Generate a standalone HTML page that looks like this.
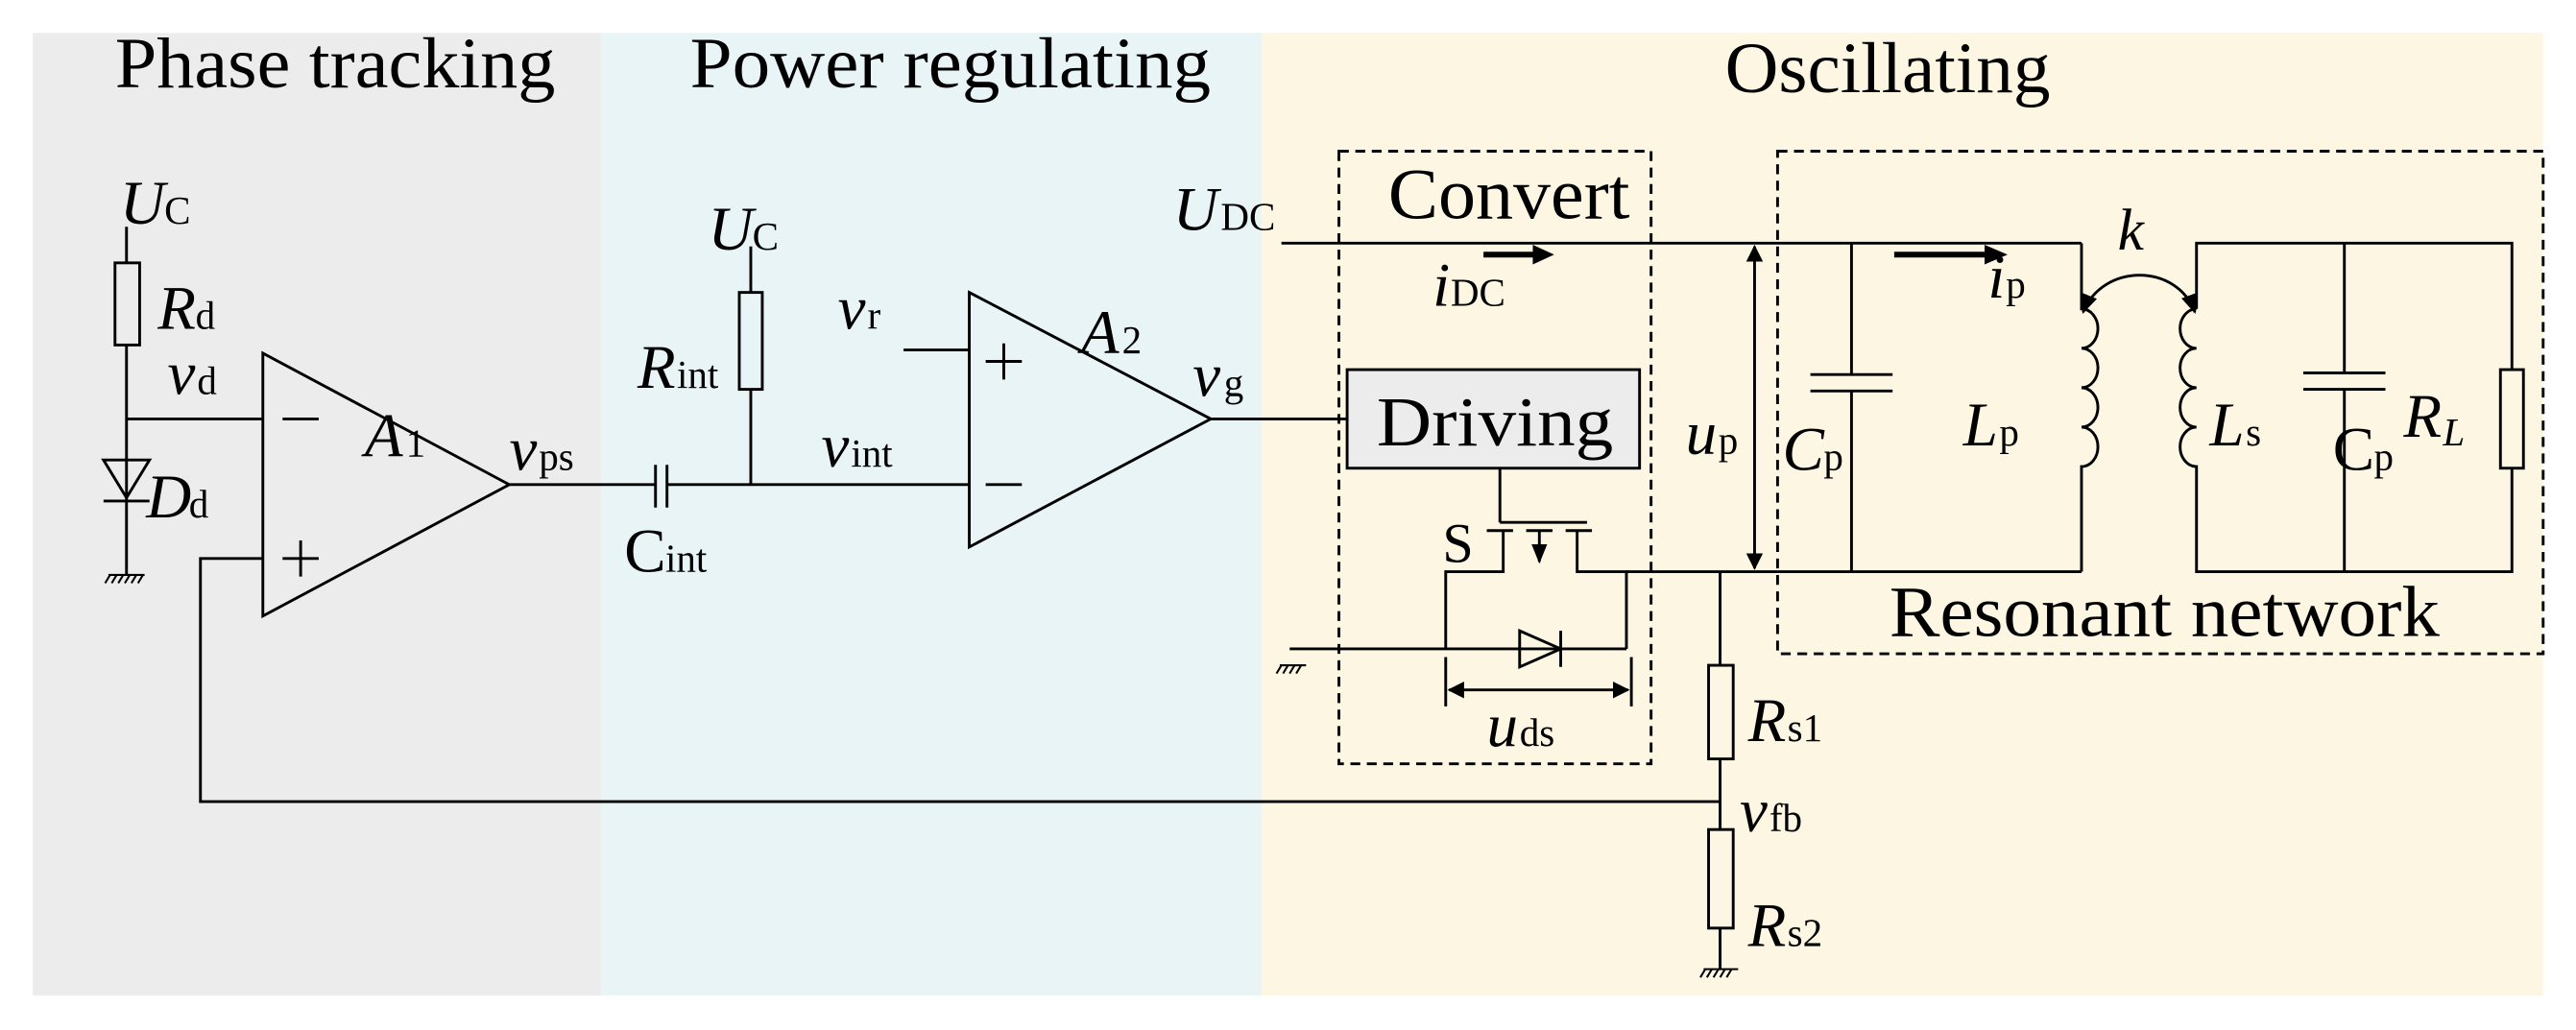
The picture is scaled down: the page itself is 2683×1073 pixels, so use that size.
<!DOCTYPE html>
<html><head><meta charset="utf-8"><style>
html,body{margin:0;padding:0;background:#fff;}
svg{display:block;}
text{font-family:"Liberation Serif",serif;fill:#000;}
.i{font-style:italic;}
</style></head><body>
<svg width="2683" height="1073" viewBox="0 0 1568 627" xmlns="http://www.w3.org/2000/svg">
<defs>
<marker id="ah" viewBox="0 0 10 10" refX="9" refY="5" markerWidth="6" markerHeight="6" orient="auto-start-reverse"><path d="M0,0 L10,5 L0,10 z" fill="#000"/></marker>
<marker id="bh" viewBox="0 0 10 10" refX="9" refY="5" markerWidth="7" markerHeight="7" orient="auto-start-reverse"><path d="M0,1 L10,5 L0,9 z" fill="#000"/></marker>
</defs>
<rect x="20" y="20" width="346" height="586" fill="#ececec"/>
<rect x="366" y="20" width="402" height="586" fill="#e8f4f6"/>
<rect x="768" y="20" width="780" height="586" fill="#fdf6e3"/>
<text x="70" y="53" font-size="44" textLength="268" lengthAdjust="spacingAndGlyphs">Phase tracking</text>
<text x="420" y="53" font-size="44" textLength="317" lengthAdjust="spacingAndGlyphs">Power regulating</text>
<text x="1050" y="56" font-size="44" textLength="198" lengthAdjust="spacingAndGlyphs">Oscillating</text>
<g stroke="#000" stroke-width="1.7" fill="none">
<path d="M77,138 V160 M77,210 V305 M77,350 V305"/>
<rect x="70" y="160" width="15" height="50"/>
<path d="M63,280 H91 L77,303 Z M63,305 H91"/>
<path d="M77,255 H160"/>
<path d="M66,350 H88 M67,350 l-3,5 M71,350 l-3,5 M75,350 l-3,5 M79,350 l-3,5 M83,350 l-3,5 M87,350 l-3,5" stroke-width="1.2"/>
<path d="M160,215 V375 L310,295 Z"/>
<path d="M172,255 H194 M172,340 H194 M183,329 V351"/>
<path d="M160,340 H122 V488 H1047"/>
<path d="M310,295 H399 M399,283 V309 M406,283 V309 M406,295 H590"/>
<path d="M457,150 V178 M457,237 V295"/>
<rect x="450" y="178" width="14" height="59"/>
<path d="M590,178 V333 L737,255 Z"/>
<path d="M600,220 H622 M611,209 V231 M600,295 H622"/>
<path d="M550,213 H590"/>
<path d="M737,255 H820"/>
</g>
<rect x="820" y="225" width="178" height="60" fill="#ececec" stroke="#000" stroke-width="1.7"/>
<text x="838" y="271" font-size="43" textLength="144" lengthAdjust="spacingAndGlyphs">Driving</text>
<g stroke="#000" stroke-width="1.7" fill="none">
<rect x="815" y="92" width="190" height="373" stroke-dasharray="6,4"/>
<rect x="1082" y="92" width="466" height="306" stroke-dasharray="6,4"/>
<path d="M780,148 H1267"/>
<path d="M990,348 H1267"/>
<path d="M913,285 V318 M913,318 H966 M905,323 H921 M929,323 H945 M953,323 H969 M915,323 V348 H880 V395 M960,323 V348 H990 V395 M880,395 H990 M785,395 H880"/>
<path d="M937,323 V342" marker-end="url(#bh)"/>
<path d="M925,384 V406 L950,395 Z M950,384 V406"/>
<path d="M779,405 H795 M780,405 l-3,5 M784,405 l-3,5 M788,405 l-3,5 M792,405 l-3,5" stroke-width="1.2"/>
<path d="M880,400 V430 M993,400 V430"/>
<path d="M882,420 H991" marker-start="url(#ah)" marker-end="url(#ah)"/>
<path d="M1068,150 V346" marker-start="url(#ah)" marker-end="url(#ah)"/>
<path d="M1127,148 V228 M1127,238 V348 M1102,228 H1152 M1102,238 H1152"/>
<path d="M1267,148 V188 a10,12 0 0 1 0,24 a10,12 0 0 1 0,24 a10,12 0 0 1 0,24 a10,12 0 0 1 0,24 V348"/>
<path d="M1337,188 a10,12 0 0 0 0,24 a10,12 0 0 0 0,24 a10,12 0 0 0 0,24 a10,12 0 0 0 0,24 V348 H1529 V285 M1529,225 V148 H1337 V188"/>
<rect x="1522" y="225" width="14" height="60"/>
<path d="M1427,148 V227 M1427,237 V348 M1402,227 H1452 M1402,237 H1452"/>
<path d="M1268,190 C1280,160 1325,160 1336,190" marker-start="url(#bh)" marker-end="url(#bh)"/>
<path d="M1047,348 V405 M1047,462 V505 M1047,565 V590"/>
<rect x="1040" y="405" width="15" height="57"/>
<rect x="1040" y="505" width="15" height="60"/>
<path d="M1037,590 H1058 M1038,590 l-3,5 M1042,590 l-3,5 M1046,590 l-3,5 M1050,590 l-3,5 M1054,590 l-3,5" stroke-width="1.2"/>
</g>
<path d="M903,155 H935" stroke="#000" stroke-width="3.5"/><path d="M933,149 L946,155 L933,161 Z"/>
<path d="M1153,155 H1210" stroke="#000" stroke-width="3.5"/><path d="M1208,149 L1222,155 L1208,161 Z"/>
<text x="73" y="136" font-size="38" class="i">U</text><text x="100" y="136" font-size="24">C</text>
<text x="96" y="200" font-size="38" class="i">R</text><text x="119" y="200" font-size="24">d</text>
<text x="102" y="240" font-size="38" class="i">v</text><text x="120" y="240" font-size="24">d</text>
<text x="89" y="315" font-size="38" class="i">D</text><text x="115" y="315" font-size="24">d</text>
<text x="222" y="278" font-size="38" class="i">A</text><text x="247" y="278" font-size="24">1</text>
<text x="310" y="286" font-size="38" class="i">v</text><text x="328" y="286" font-size="24">ps</text>
<text x="380" y="348" font-size="38">C</text><text x="405" y="348" font-size="24">int</text>
<text x="431" y="152" font-size="38" class="i">U</text><text x="458" y="152" font-size="24">C</text>
<text x="388" y="236" font-size="38" class="i">R</text><text x="412" y="236" font-size="24">int</text>
<text x="510" y="200" font-size="38" class="i">v</text><text x="528" y="200" font-size="24">r</text>
<text x="500" y="284" font-size="38" class="i">v</text><text x="518" y="284" font-size="24">int</text>
<text x="658" y="215" font-size="38" class="i">A</text><text x="683" y="215" font-size="24">2</text>
<text x="726" y="241" font-size="38" class="i">v</text><text x="745" y="241" font-size="24">g</text>
<text x="714" y="140" font-size="38" class="i">U</text><text x="743" y="140" font-size="24">DC</text>
<text x="845" y="133" font-size="44" textLength="147" lengthAdjust="spacingAndGlyphs">Convert</text>
<text x="872" y="186" font-size="38" class="i">i</text><text x="883" y="186" font-size="24">DC</text>
<text x="878" y="342" font-size="34">S</text>
<text x="1026" y="276" font-size="38" class="i">u</text><text x="1046" y="276" font-size="24">p</text>
<text x="1085" y="286" font-size="38" class="i">C</text><text x="1110" y="286" font-size="24">p</text>
<text x="1210" y="181" font-size="38" class="i">i</text><text x="1221" y="181" font-size="24">p</text>
<text x="1289" y="152" font-size="36" class="i">k</text>
<text x="1195" y="271" font-size="38" class="i">L</text><text x="1217" y="271" font-size="24">p</text>
<text x="1345" y="271" font-size="38" class="i">L</text><text x="1367" y="271" font-size="24">s</text>
<text x="1420" y="286" font-size="38">C</text><text x="1445" y="286" font-size="24">p</text>
<text x="1463" y="266" font-size="38" class="i">R</text><text x="1487" y="271" font-size="24" class="i">L</text>
<text x="1150" y="387" font-size="44" textLength="335" lengthAdjust="spacingAndGlyphs">Resonant network</text>
<text x="905" y="454" font-size="38" class="i">u</text><text x="925" y="454" font-size="24">ds</text>
<text x="1064" y="451" font-size="38" class="i">R</text><text x="1088" y="451" font-size="24">s1</text>
<text x="1059" y="506" font-size="38" class="i">v</text><text x="1077" y="506" font-size="24">fb</text>
<text x="1064" y="576" font-size="38" class="i">R</text><text x="1088" y="576" font-size="24">s2</text>
</svg>
</body></html>
